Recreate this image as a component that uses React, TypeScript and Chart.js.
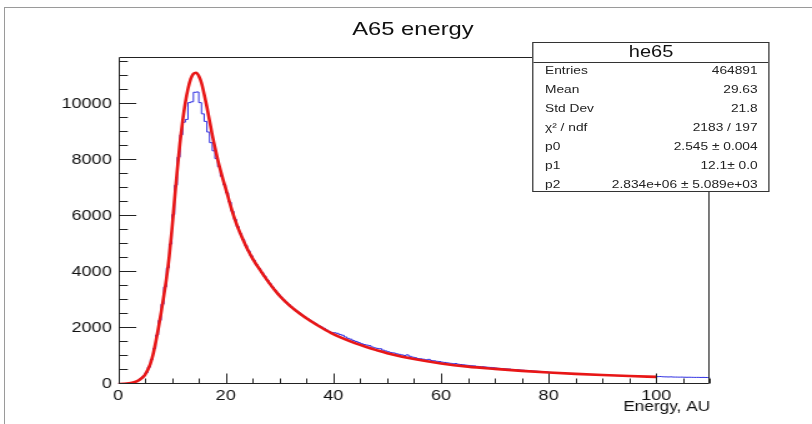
import React, { useEffect, useRef } from 'react';
import { Chart, registerables } from 'chart.js';

Chart.register(...registerables);

// ---------- data ----------
const TITLE = 'A65 energy';
const X_TITLE = 'Energy, AU';
const X_MIN = 0;
const X_MAX = 110;
const BIN_WIDTH = 0.5;
const Y_MIN = 0;
const Y_MAX = 11680;
const X_MAJOR = 20;
const X_MINOR = 5;
const Y_MAJOR = 2000;
const Y_MINOR = 500;
const X_TICKS = [0, 20, 40, 60, 80, 100];
const Y_TICKS = [0, 2000, 4000, 6000, 8000, 10000];

// histogram bin contents, bins of 0.5 from 0 to 110
const HIST = [
  2, 5, 10, 20, 30, 52, 80, 125, 190, 280,
  400, 600, 880, 1270, 1750, 2270, 2850, 3470, 4150, 5000,
  6050, 7100, 8100, 8900, 9350, 9450, 10050, 10080, 10420, 10430,
  10050, 9650, 9380, 9000, 8620, 8330, 8050, 7760, 7420, 7120,
  6830, 6500, 6170, 5880, 5620, 5370, 5160, 4950, 4760, 4580,
  4420, 4260, 4120, 3980, 3850, 3710, 3580, 3450, 3330, 3220,
  3110, 3010, 2920, 2830, 2750, 2670, 2600, 2530, 2460, 2390,
  2330, 2270, 2210, 2150, 2090, 2040, 1990, 1930, 1880, 1840,
  1830, 1810, 1770, 1740, 1680, 1630, 1600, 1550, 1520, 1480,
  1440, 1410, 1390, 1370, 1320, 1290, 1270, 1260, 1210, 1180,
  1150, 1120, 1110, 1080, 1060, 1040, 1020, 1040, 990, 960,
  940, 910, 900, 885, 865, 880, 840, 830, 810, 800,
  780, 770, 755, 740, 725, 730, 705, 695, 685, 672,
  662, 652, 645, 630, 620, 618, 608, 598, 592, 582,
  570, 560, 555, 545, 538, 532, 520, 514, 508, 498,
  492, 484, 478, 470, 462, 458, 450, 442, 437, 430,
  415, 410, 402, 398, 392, 388, 380, 377, 370, 368,
  362, 356, 352, 348, 342, 340, 334, 330, 328, 322,
  318, 316, 312, 306, 305, 300, 298, 292, 290, 285,
  284, 280, 276, 275, 270, 268, 264, 262, 258, 256,
  262, 268, 258, 255, 252, 254, 248, 247, 245, 246,
  242, 240, 241, 238, 236, 237, 234, 236, 233, 230,
];

// fitted function samples
const FIT_X = [
  0, 1, 2, 3, 4, 5, 6,
  6.5, 7, 7.5, 8, 8.5, 9, 9.5, 10, 10.5, 11, 11.5, 12, 12.5, 13, 13.5, 14,
  14.5, 15, 15.5, 16, 16.5, 17, 17.5, 18, 18.5, 19, 19.5, 20,
  21, 22, 23, 24, 25, 26, 27, 28, 29, 30,
  32, 34, 36, 38, 40, 42, 44, 46, 48, 50,
  55, 60, 65, 70, 75, 80, 85, 90, 95, 100,
];
const FIT_Y = [
  0, 8, 25, 65, 155, 330, 720,
  1050, 1500, 2000, 2550, 3150, 3780, 4550, 5500, 6600, 7650, 8600, 9400, 10050, 10550, 10900, 11080,
  11120, 11000, 10750, 10350, 9900, 9400, 8900, 8450, 8030, 7650, 7300, 6980,
  6300, 5720, 5250, 4830, 4480, 4180, 3900, 3630, 3380, 3150,
  2780, 2480, 2220, 1990, 1780, 1610, 1460, 1330, 1210, 1100,
  890, 735, 620, 540, 470, 410, 360, 320, 285, 255,
];

const STATS_NAME = 'he65';
const STATS_LABELS = ['Entries', 'Mean', 'Std Dev', 'χ² / ndf', 'p0', 'p1', 'p2'];
const STATS_VALUES = ['464891', '29.63', '21.8', '2183 / 197', '2.545 ± 0.004', '12.1± 0.0', '2.834e+06 ± 5.089e+03'];

// ---------- layout (unscaled coordinates; whole figure stretched horizontally) ----------
const W = 650;
const H = 424;
const SX = 812 / W;
const PLOT_LEFT = 94.5;
const PLOT_RIGHT = 568.4;
const PLOT_TOP = 57;
const PLOT_BOTTOM = 384;
const FONT = '"Liberation Sans", Arial, Helvetica, sans-serif';

const rootAxes = {
  id: 'rootAxes',
  afterDatasetsDraw(chart: any) {
    const { ctx, chartArea: a, scales } = chart;
    const x = scales.x;
    const y = scales.y;
    ctx.save();
    ctx.strokeStyle = '#222';
    ctx.lineWidth = 1;
    const L = Math.round(a.left) + 0.5;
    const R = Math.round(a.right) - 0.5;
    const T = Math.round(a.top) + 0.5;
    const B = Math.round(a.bottom) - 0.5;
    ctx.beginPath();
    ctx.rect(L, T, R - L, B - T);
    ctx.stroke();
    ctx.beginPath();
    for (let v = Y_MIN; v <= Y_MAX; v += Y_MINOR) {
      const py = Math.round(y.getPixelForValue(v)) - 0.5;
      const len = v % Y_MAJOR === 0 ? 13.6 : 6.8;
      ctx.moveTo(L, py);
      ctx.lineTo(L + len, py);
    }
    for (let v = X_MIN; v <= X_MAX; v += X_MINOR) {
      const px = Math.round(x.getPixelForValue(v)) + 0.5;
      const len = v % X_MAJOR === 0 ? 10 : 5;
      ctx.moveTo(px, B);
      ctx.lineTo(px, B - len);
    }
    ctx.stroke();
    ctx.restore();
  },
};

export default function App() {
  const canvasRef = useRef<HTMLCanvasElement | null>(null);

  useEffect(() => {
    document.body.style.margin = '0';
    document.body.style.overflow = 'hidden';
    const canvas = canvasRef.current;
    if (!canvas) return;

    const histPoints = HIST.map((v, i) => ({ x: X_MIN + i * BIN_WIDTH, y: v }));
    histPoints.push({ x: X_MIN + HIST.length * BIN_WIDTH, y: HIST[HIST.length - 1] });
    const fitPoints = FIT_X.map((xv, i) => ({ x: xv, y: FIT_Y[i] }));

    const chart = new Chart(canvas, {
      type: 'line',
      data: {
        datasets: [
          {
            label: 'fit',
            data: fitPoints,
            borderColor: 'rgb(232, 22, 22)',
            borderWidth: 2.6,
            pointRadius: 0,
            cubicInterpolationMode: 'monotone',
            fill: false,
            order: 0,
          },
          {
            label: STATS_NAME,
            data: histPoints,
            borderColor: 'rgb(45, 45, 225)',
            borderWidth: 1,
            pointRadius: 0,
            stepped: 'before',
            fill: false,
            order: 1,
          },
        ],
      },
      options: {
        responsive: false,
        animation: false,
        parsing: false,
        normalized: true,
        layout: { padding: { top: PLOT_TOP, right: W - PLOT_RIGHT, left: 0, bottom: 0 } },
        plugins: {
          legend: { display: false },
          tooltip: { enabled: false },
          title: { display: false },
        },
        scales: {
          x: {
            type: 'linear',
            min: X_MIN,
            max: X_MAX,
            grid: { display: false, drawTicks: false },
            border: { display: false },
            afterBuildTicks(scale: any) {
              scale.ticks = X_TICKS.map((v) => ({ value: v }));
            },
            ticks: {
              autoSkip: false,
              maxRotation: 0,
              padding: 3,
              color: '#111',
              font: { family: FONT, size: 14.5 },
              callback: (v: any) => String(v),
            },
            title: {
              display: true,
              text: X_TITLE,
              align: 'end',
              color: '#111',
              font: { family: FONT, size: 13.8 },
              padding: { top: 0, bottom: 9 },
            },
            afterFit(scale: any) {
              scale.height = H - PLOT_BOTTOM;
            },
          },
          y: {
            type: 'linear',
            min: Y_MIN,
            max: Y_MAX,
            grid: { display: false, drawTicks: false },
            border: { display: false },
            afterBuildTicks(scale: any) {
              scale.ticks = Y_TICKS.map((v) => ({ value: v }));
            },
            ticks: {
              autoSkip: false,
              padding: 5,
              color: '#111',
              font: { family: FONT, size: 14.5 },
              callback: (v: any) => String(v),
            },
            afterFit(scale: any) {
              scale.width = PLOT_LEFT;
            },
          },
        },
      },
      plugins: [rootAxes],
    } as any);

    return () => chart.destroy();
  }, []);

  const rowCenters = [70.7, 89.3, 108.3, 127.3, 146, 165.3, 184];
  const boxLeft = 425.9;
  const boxTop = 42;
  const boxW = 190.5;
  const boxH = 150;

  return (
    <div
      style={{
        position: 'absolute',
        left: 0,
        top: 0,
        width: W,
        height: H,
        transform: `scaleX(${SX})`,
        transformOrigin: '0 0',
        background: '#fff',
        fontFamily: FONT,
        color: '#111',
      }}
    >
      <canvas ref={canvasRef} width={W} height={H} style={{ position: 'absolute', left: 0, top: 0, display: 'block' }} />
      <div
        style={{
          position: 'absolute',
          left: 3.2,
          top: 7,
          width: W - 3.2,
          height: H - 7,
          borderTop: '1px solid #9a9a9a',
          borderLeft: '1px solid #9a9a9a',
          boxSizing: 'border-box',
          pointerEvents: 'none',
        }}
      />
      <div
        style={{
          position: 'absolute',
          left: 230.6,
          width: 200,
          top: 18.7,
          fontSize: 19,
          lineHeight: '19px',
          textAlign: 'center',
          whiteSpace: 'nowrap',
        }}
      >
        {TITLE}
      </div>
      <div
        style={{
          position: 'absolute',
          left: boxLeft,
          top: boxTop,
          width: boxW,
          height: boxH,
          border: '1px solid #333',
          background: '#fff',
          boxSizing: 'border-box',
        }}
      >
        <div
          style={{
            position: 'absolute',
            left: 0,
            right: 0,
            top: 0,
            height: 61 - boxTop,
            borderBottom: '1px solid #333',
          }}
        />
        <div
          style={{
            position: 'absolute',
            left: 0,
            right: 0,
            top: 43.9 - boxTop - 1,
            fontSize: 16,
            lineHeight: '16px',
            textAlign: 'center',
            whiteSpace: 'nowrap',
          }}
        >
          {STATS_NAME}
        </div>
        {STATS_LABELS.map((lab, i) => (
          <React.Fragment key={lab}>
            <div
              style={{
                position: 'absolute',
                left: 10.4 - 1,
                top: rowCenters[i] - 5.37 - boxTop - 1,
                fontSize: 11,
                lineHeight: '11px',
                whiteSpace: 'nowrap',
                color: '#222',
              }}
            >
              {lab}
            </div>
            <div
              style={{
                position: 'absolute',
                right: 9.9 - 1,
                top: rowCenters[i] - 5.37 - boxTop - 1,
                fontSize: 11,
                lineHeight: '11px',
                whiteSpace: 'nowrap',
                textAlign: 'right',
                color: '#222',
              }}
            >
              {STATS_VALUES[i]}
            </div>
          </React.Fragment>
        ))}
      </div>
    </div>
  );
}
